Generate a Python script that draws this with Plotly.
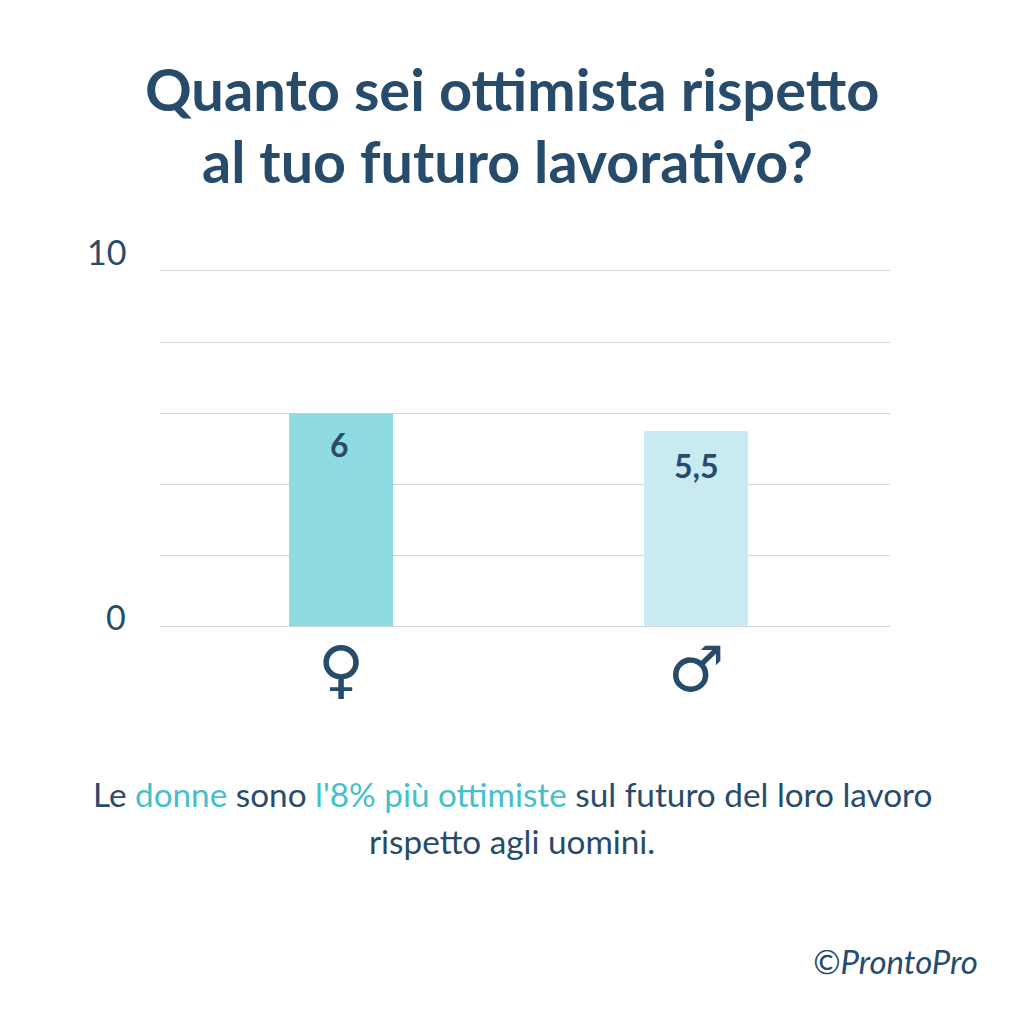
import plotly.graph_objects as go

categories = ["♀", "♂"]
values = [6, 5.5]
labels = ["6", "5,5"]
colors = ["#90dbe2", "#c8eaf0"]
tick_vals = [0, 2, 4, 6, 8, 10]
shown_ticks = {0: ("0", 10), 10: ("10", 19)}
title_lines = ["Quanto sei ottimista rispetto", "al tuo futuro lavorativo?"]
NAVY = "#274b6b"
TEAL = "#45bfc9"
OFF = 8  # default page margin of the written html


def px(x):
    return (x - OFF) / 1024


def py(y):
    return 1 - (y - OFF) / 1024


def note(text, x, y, size, xanchor="center", family="Lato"):
    return dict(text=text, x=px(x), y=py(y), xref="paper", yref="paper", showarrow=False,
                font=dict(family=family, size=size, color=NAVY), xanchor=xanchor, yanchor="middle", align="center")


annotations = [
    note(f"<b>{title_lines[0]}</b>", 512, 88, 57.8),
    note(f"<b>{title_lines[1]}</b>", 507.5, 160, 57.4),
    note(f"Le <span style='color:{TEAL}'>donne</span> sono <span style='color:{TEAL}'>l'8% più ottimiste</span> sul futuro del loro lavoro", 512, 794, 33.3),
    note("rispetto agli uomini.", 511.5, 841, 33.3),
    note("<i>©ProntoPro</i>", 980, 961, 33, xanchor="right"),
]
for val, (txt, shift) in shown_ticks.items():
    annotations.append(dict(text=txt, x=px(128), xref="paper", y=val, yref="y", yshift=shift, showarrow=False,
                            xanchor="right", yanchor="middle", font=dict(family="Lato", size=34, color=NAVY)))
for cat, val, lab, dx, dy in zip(categories, values, labels, [-2, 0], [-31, -35]):
    annotations.append(dict(text=f"<b>{lab}</b>", x=cat, y=val, xref="x", yref="y", xshift=dx, yshift=dy, showarrow=False,
                            xanchor="center", yanchor="middle", font=dict(family="Lato", size=32, color=NAVY)))

fig = go.Figure(go.Bar(x=categories, y=values, marker_color=colors, marker_line_width=0, width=0.293))
fig.update_layout(
    width=1024, height=1024, margin=dict(l=0, r=0, t=0, b=0, autoexpand=False),
    paper_bgcolor="white", plot_bgcolor="white",
    font=dict(family="Lato", color=NAVY), showlegend=False,
    xaxis=dict(domain=[px(160), px(890)], range=[-0.51, 1.546], showgrid=False, showline=False,
               tickfont=dict(family="DejaVu Sans", size=63, color=NAVY), ticks="", automargin=False),
    yaxis=dict(domain=[py(626.5), py(253.2)], range=[0, 10.5], tickvals=tick_vals, showticklabels=False,
               gridcolor="#d3d6da", gridwidth=1, zeroline=True, zerolinecolor="#d3d6da", zerolinewidth=1,
               showline=False, ticks="", automargin=False),
    annotations=annotations,
)
fig.write_html("out.html")
